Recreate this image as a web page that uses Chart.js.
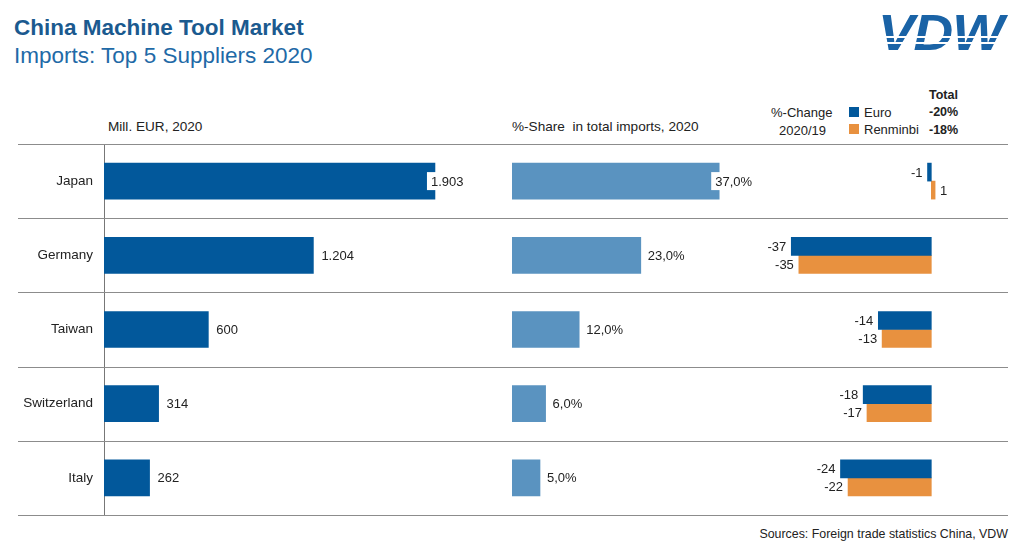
<!DOCTYPE html>
<html>
<head>
<meta charset="utf-8">
<script src="https://cdn.jsdelivr.net/npm/chart.js@4.4.0/dist/chart.umd.min.js"></script>
<style>
body { margin: 0; background: #fff; font-family: "Liberation Sans", Arial, sans-serif; color: #222; }
#page { position: relative; width: 1028px; height: 559px; overflow: hidden; }
.t { position: absolute; white-space: nowrap; line-height: 1; }
canvas { position: absolute; left: 0; top: 139px; }
.sq { position: absolute; width: 10px; height: 10px; }
</style>
</head>
<body>
<div id="page">
  <div class="t" style="left:14px;top:17px;font-size:22.5px;font-weight:bold;color:#1b5a8f">China Machine Tool Market</div>
  <div class="t" style="left:14px;top:45px;font-size:22.5px;color:#1f6aa7">Imports: Top 5 Suppliers 2020</div>

  <div class="t" style="left:878px;top:8px;font-size:50px;font-weight:900;font-style:italic;color:#1a63a6;letter-spacing:-1px;transform:scaleX(1.1);transform-origin:left">VDW</div>
  <div style="position:absolute;left:870px;top:36px;width:150px;height:1.5px;background:#fff"></div>
  <div style="position:absolute;left:870px;top:42px;width:150px;height:1.5px;background:#fff"></div>

  <div class="t" style="left:108px;top:120px;font-size:13.6px">Mill. EUR, 2020</div>
  <div class="t" style="left:512px;top:120px;font-size:13.6px">%-Share&nbsp; in total imports, 2020</div>

  <div class="t" style="left:771px;top:106px;font-size:13px">%-Change</div>
  <div class="t" style="left:779px;top:124px;font-size:13px">2020/19</div>
  <div class="sq" style="left:849px;top:107px;background:#02589b"></div>
  <div class="t" style="left:864px;top:106px;font-size:13px">Euro</div>
  <div class="sq" style="left:849px;top:124px;background:#e8913f"></div>
  <div class="t" style="left:864px;top:123px;font-size:13px">Renminbi</div>
  <div class="t" style="left:929px;top:89px;font-size:12.5px;font-weight:bold">Total</div>
  <div class="t" style="left:929px;top:106px;font-size:12.5px;font-weight:bold">-20%</div>
  <div class="t" style="left:929px;top:124px;font-size:12.5px;font-weight:bold">-18%</div>

  <canvas id="cLeft" width="1028" height="382"></canvas>
  <canvas id="cMid" width="1028" height="382"></canvas>
  <canvas id="cRight" width="1028" height="382"></canvas>

  <div class="t" style="right:20px;top:528px;font-size:12.4px">Sources: Foreign trade statistics China, VDW</div>
</div>
<script>
var countries = ['Japan', 'Germany', 'Taiwan', 'Switzerland', 'Italy'];
var importsMillEur = [1903, 1204, 600, 314, 262];
var sharePct = [37, 23, 12, 6, 5];
var changeEuro = [-1, -37, -14, -18, -24];
var changeRmb = [1, -35, -13, -17, -22];

Chart.defaults.font.family = '"Liberation Sans", Arial, sans-serif';
Chart.defaults.color = '#222';

function fmtThousands(v) {
    var s = String(v);
    return s.length > 3 ? s.slice(0, -3) + '.' + s.slice(-3) : s;
}
function fmtPct(v) {
    return v.toFixed(1).replace('.', ',') + '%';
}

// numbers next to the bar ends
var valueLabels = {
    id: 'valueLabels',
    afterDatasetsDraw: function(chart, args, opts) {
        if (!opts.format) return;
        var ctx = chart.ctx;
        ctx.save();
        ctx.font = '13px "Liberation Sans", Arial, sans-serif';
        ctx.textBaseline = 'middle';
        chart.data.datasets.forEach(function(ds, di) {
            var meta = chart.getDatasetMeta(di);
            var maxV = Math.max.apply(null, ds.data);
            meta.data.forEach(function(bar, i) {
                var v = ds.data[i];
                var txt = opts.format(v);
                var w = ctx.measureText(txt).width;
                var x;
                if (v < 0) {
                    ctx.textAlign = 'right';
                    x = bar.x - 5;
                } else {
                    ctx.textAlign = 'left';
                    x = bar.x + (opts.tuckMax && v === maxV ? -4 : opts.gap);
                    if (opts.tuckMax && v === maxV) {
                        ctx.fillStyle = '#fff';
                        ctx.fillRect(x - 4, bar.y - 9, w + 8, 18);
                    }
                }
                ctx.fillStyle = '#222';
                ctx.fillText(txt, x, bar.y + 1);
            });
        });
        ctx.restore();
    }
};

// horizontal separators between the country rows
var rowRules = {
    id: 'rowRules',
    beforeDatasetsDraw: function(chart, args, opts) {
        if (!opts.draw) return;
        var y = chart.scales.y;
        var n = chart.data.labels.length;
        var step = (y.bottom - y.top) / n;
        var ctx = chart.ctx;
        ctx.save();
        ctx.strokeStyle = '#8c8c8c';
        ctx.lineWidth = 1.2;
        for (var i = 0; i <= n; i++) {
            var py = Math.round(y.getPixelForValue(i) - step / 2) + 0.5;
            ctx.beginPath();
            ctx.moveTo(18, py);
            ctx.lineTo(1008, py);
            ctx.stroke();
        }
        ctx.restore();
    }
};

Chart.register(valueLabels, rowRules);

function baseOptions(padLeft, padRight, xMin, xMax) {
    return {
        indexAxis: 'y',
        responsive: false,
        animation: false,
        layout: { padding: { top: 5, bottom: 6, left: padLeft, right: padRight } },
        plugins: { legend: { display: false }, tooltip: { enabled: false } },
        scales: {
            x: { display: false, min: xMin, max: xMax },
            y: { display: false }
        }
    };
}

var leftOpts = baseOptions(0, 524, 0, 2300);
leftOpts.plugins.valueLabels = { format: fmtThousands, gap: 8, tuckMax: true };
leftOpts.plugins.rowRules = { draw: true };
leftOpts.scales.y = {
    display: true,
    grid: { display: false, drawTicks: false },
    border: { display: true, color: '#777', width: 1 },
    ticks: { padding: 11, color: '#222', font: { size: 13.5 } },
    afterFit: function(scale) {
        scale.width = 104;
        scale.paddingTop = 0;
        scale.paddingBottom = 0;
    }
};
new Chart(document.getElementById('cLeft'), {
    type: 'bar',
    data: {
        labels: countries,
        datasets: [{ data: importsMillEur, backgroundColor: '#02589b', barThickness: 36 }]
    },
    options: leftOpts
});

var midOpts = baseOptions(512, 236, 0, 50);
midOpts.plugins.valueLabels = { format: fmtPct, gap: 7, tuckMax: true };
new Chart(document.getElementById('cMid'), {
    type: 'bar',
    data: {
        labels: countries,
        datasets: [{ data: sharePct, backgroundColor: '#5a93c0', barThickness: 36 }]
    },
    options: midOpts
});

var rightOpts = baseOptions(761, 21, -45, 20);
rightOpts.plugins.valueLabels = { format: function(v) { return String(v); }, gap: 5, tuckMax: false };
new Chart(document.getElementById('cRight'), {
    type: 'bar',
    data: {
        labels: countries,
        datasets: [
            { label: 'Euro', data: changeEuro, backgroundColor: '#02589b', barThickness: 18 },
            { label: 'Renminbi', data: changeRmb, backgroundColor: '#e8913f', barThickness: 18 }
        ]
    },
    options: rightOpts
});
</script>
</body>
</html>
